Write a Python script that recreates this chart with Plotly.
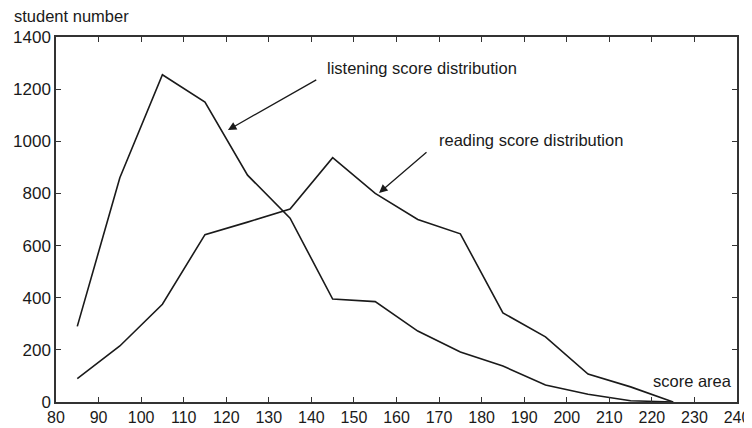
import plotly.graph_objects as go

scores = [85, 95, 105, 115, 125, 135, 145, 155, 165, 175, 185, 195, 205, 215, 225]
listening = [290, 860, 1255, 1150, 870, 705, 395, 385, 272, 192, 138, 65, 30, 5, 0]
reading = [90, 215, 375, 642, 690, 740, 937, 800, 700, 645, 342, 250, 107, 58, 0]

x_ticks = list(range(80, 241, 10))
y_ticks = list(range(0, 1401, 200))

fig = go.Figure()
fig.add_trace(go.Scatter(x=scores, y=listening, mode="lines",
                         line=dict(color="#1a1a1a", width=1.6), showlegend=False))
fig.add_trace(go.Scatter(x=scores, y=reading, mode="lines",
                         line=dict(color="#1a1a1a", width=1.6), showlegend=False))

font = dict(family="Liberation Sans, Arial, sans-serif", size=17, color="#1a1a1a")
xfont = dict(family="Liberation Sans, Arial, sans-serif", size=16, color="#1a1a1a")

# page body adds ~8px offset; figure is sized to fit the 752x428 window
fig.update_layout(
    width=744, height=420,
    margin=dict(l=48, r=15, t=29, b=26),
    paper_bgcolor="white", plot_bgcolor="white",
    font=font,
    xaxis=dict(range=[80, 240], tickvals=x_ticks, ticks="inside", ticklen=5,
               showgrid=False, zeroline=False, showline=True, linecolor="#333",
               linewidth=1.5, mirror="ticks", tickcolor="#333", tickfont=xfont,
               automargin=False),
    yaxis=dict(range=[0, 1400], tickvals=y_ticks, ticks="inside", ticklen=5,
               showgrid=False, zeroline=False, showline=True, linecolor="#333",
               linewidth=1.5, mirror="ticks", tickcolor="#333", tickfont=font,
               automargin=False),
)

ann_font = dict(family="Liberation Sans, Arial, sans-serif", size=16.5, color="#1a1a1a")
fig.add_annotation(x=120.4, y=1043, ax=141.5, ay=1239, xref="x", yref="y",
                   axref="x", ayref="y", text="", showarrow=True,
                   arrowhead=2, arrowsize=1.3, arrowwidth=1.3, arrowcolor="#1a1a1a")
fig.add_annotation(x=143.1, y=1281, xref="x", yref="y", text="listening score distribution",
                   showarrow=False, xanchor="left", yanchor="middle", font=ann_font)
fig.add_annotation(x=155.9, y=802, ax=167.4, ay=963, xref="x", yref="y",
                   axref="x", ayref="y", text="", showarrow=True,
                   arrowhead=2, arrowsize=1.3, arrowwidth=1.3, arrowcolor="#1a1a1a")
fig.add_annotation(x=169.5, y=1005, xref="x", yref="y", text="reading score distribution",
                   showarrow=False, xanchor="left", yanchor="middle", font=ann_font)
fig.add_annotation(x=239.3, y=80, xref="x", yref="y", text="score area",
                   showarrow=False, xanchor="right", yanchor="middle", font=ann_font)
fig.add_annotation(xref="paper", yref="paper", x=(4 - 48) / 681, y=1 + (29 - 8) / 365,
                   text="student number", showarrow=False, xanchor="left",
                   yanchor="middle", font=ann_font)

fig.write_html("out.html")
